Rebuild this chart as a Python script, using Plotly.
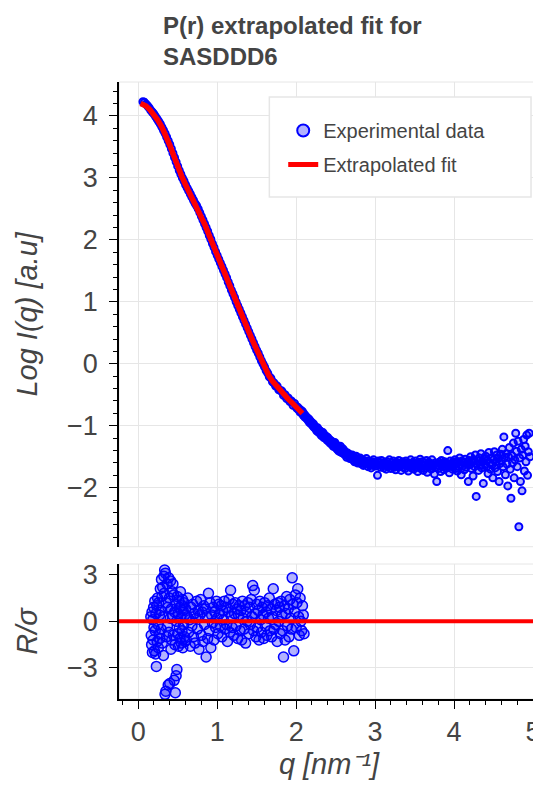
import plotly.graph_objects as go

# ---------------- data ----------------
q_exp = [
    0.06, 0.08, 0.10, 0.12, 0.14, 0.16, 0.18, 0.20, 0.22, 0.24,
    0.26, 0.28, 0.30, 0.32, 0.34, 0.36, 0.38, 0.40, 0.42, 0.44,
    0.46, 0.48, 0.50, 0.52, 0.54, 0.56, 0.58, 0.60, 0.62, 0.64,
    0.66, 0.68, 0.70, 0.72, 0.74, 0.76, 0.78, 0.80, 0.82, 0.84,
    0.86, 0.88, 0.90, 0.92, 0.94, 0.96, 0.98, 1.00, 1.02, 1.04,
    1.06, 1.08, 1.10, 1.12, 1.14, 1.16, 1.18, 1.20, 1.22, 1.24,
    1.26, 1.28, 1.30, 1.32, 1.34, 1.36, 1.38, 1.40, 1.42, 1.44,
    1.46, 1.48, 1.50, 1.52, 1.54, 1.56, 1.58, 1.60, 1.62, 1.64,
    1.66, 1.68, 1.70, 1.72, 1.74, 1.76, 1.78, 1.80, 1.82, 1.84,
    1.86, 1.88, 1.90, 1.92, 1.94, 1.96, 1.98,
    2.00, 2.01, 2.02, 2.03, 2.04, 2.05, 2.06, 2.07, 2.08, 2.09,
    2.10, 2.11, 2.12, 2.13, 2.14, 2.15, 2.16, 2.17, 2.18, 2.19,
    2.20, 2.21, 2.22, 2.23, 2.24, 2.25, 2.26, 2.27, 2.28, 2.29,
    2.30, 2.31, 2.32, 2.33, 2.34, 2.35, 2.36, 2.37, 2.38, 2.39,
    2.40, 2.41, 2.42, 2.43, 2.44, 2.45, 2.46, 2.47, 2.48, 2.49,
    2.50, 2.51, 2.52, 2.53, 2.54, 2.55, 2.56, 2.57, 2.58, 2.59,
    2.60, 2.61, 2.62, 2.63, 2.64, 2.65, 2.66, 2.67, 2.68, 2.69,
    2.70, 2.71, 2.72, 2.73, 2.74, 2.75, 2.76, 2.77, 2.78, 2.79,
    2.80, 2.81, 2.82, 2.83, 2.84, 2.85, 2.86, 2.87, 2.88, 2.89,
    2.90, 2.91, 2.92, 2.93, 2.94, 2.95, 2.96, 2.97, 2.98, 2.99,
    3.00, 3.01, 3.02, 3.03, 3.04, 3.05, 3.06, 3.07, 3.08, 3.09,
    3.10, 3.11, 3.12, 3.13, 3.14, 3.15, 3.16, 3.17, 3.18, 3.19,
    3.20, 3.21, 3.22, 3.23, 3.24, 3.25, 3.26, 3.27, 3.28, 3.29,
    3.30, 3.31, 3.32, 3.33, 3.34, 3.35, 3.36, 3.37, 3.38, 3.39,
    3.40, 3.41, 3.42, 3.43, 3.44, 3.45, 3.46, 3.47, 3.48, 3.49,
    3.50, 3.51, 3.52, 3.53, 3.54, 3.55, 3.56, 3.57, 3.58, 3.59,
    3.60, 3.61, 3.62, 3.63, 3.64, 3.65, 3.66, 3.67, 3.68, 3.69,
    3.70, 3.71, 3.72, 3.73, 3.74, 3.75, 3.76, 3.77, 3.78, 3.79,
    3.80, 3.81, 3.82, 3.83, 3.84, 3.85, 3.86, 3.87, 3.88, 3.89,
    3.90, 3.91, 3.92, 3.93, 3.94, 3.95, 3.96, 3.97, 3.98, 3.99,
    4.00, 4.01, 4.02, 4.03, 4.04, 4.05, 4.06, 4.07, 4.08, 4.09,
    4.10, 4.11, 4.12, 4.13, 4.14, 4.15, 4.16, 4.17, 4.18, 4.19,
    4.20, 4.21, 4.22, 4.23, 4.24, 4.25, 4.26, 4.27, 4.28, 4.29,
    4.30, 4.31, 4.32, 4.33, 4.34, 4.35, 4.36, 4.37, 4.38, 4.39,
    4.40, 4.41, 4.42, 4.43, 4.44, 4.45, 4.46, 4.47, 4.48, 4.49,
    4.50, 4.51, 4.52, 4.53, 4.54, 4.55, 4.56, 4.57, 4.58, 4.59,
    4.60, 4.61, 4.62, 4.63, 4.64, 4.65, 4.66, 4.67, 4.68, 4.69,
    4.70, 4.71, 4.72, 4.73, 4.74, 4.75, 4.76, 4.77, 4.78, 4.79,
    4.80, 4.81, 4.82, 4.83, 4.84, 4.85, 4.86, 4.87, 4.88, 4.89,
    4.90, 4.91, 4.92, 4.93, 4.94, 4.95, 4.96,
]
logI_exp = [
    4.23, 4.22, 4.19, 4.16, 4.13, 4.09, 4.06, 4.03, 3.99, 3.95,
    3.91, 3.87, 3.82, 3.77, 3.72, 3.66, 3.60, 3.54, 3.47, 3.40,
    3.33, 3.26, 3.19, 3.12, 3.06, 3.00, 2.95, 2.89, 2.84, 2.79,
    2.74, 2.69, 2.64, 2.59, 2.55, 2.50, 2.44, 2.38, 2.32, 2.26,
    2.20, 2.14, 2.07, 2.01, 1.94, 1.88, 1.81, 1.75, 1.69, 1.63,
    1.57, 1.51, 1.45, 1.39, 1.32, 1.26, 1.19, 1.13, 1.07, 1.00,
    0.94, 0.88, 0.82, 0.76, 0.70, 0.64, 0.58, 0.52, 0.46, 0.40,
    0.34, 0.28, 0.22, 0.17, 0.11, 0.05, 0.00, -0.05, -0.11, -0.15,
    -0.21, -0.23, -0.29, -0.31, -0.36, -0.36, -0.42, -0.43, -0.44, -0.51,
    -0.50, -0.56, -0.55, -0.61, -0.60, -0.67, -0.64,
    -0.69, -0.72, -0.70, -0.74, -0.73, -0.78, -0.75, -0.79, -0.77, -0.83,
    -0.81, -0.86, -0.84, -0.88, -0.87, -0.91, -0.89, -0.95, -0.92, -0.97,
    -0.95, -1.00, -0.97, -1.03, -1.01, -1.05, -1.08, -1.03, -1.10, -1.07,
    -1.12, -1.09, -1.16, -1.13, -1.11, -1.19, -1.15, -1.20, -1.17, -1.23,
    -1.19, -1.25, -1.22, -1.28, -1.24, -1.30, -1.26, -1.33, -1.29, -1.27,
    -1.35, -1.31, -1.38, -1.34, -1.41, -1.36, -1.33, -1.43, -1.39, -1.37,
    -1.45, -1.40, -1.47, -1.43, -1.51, -1.44, -1.49, -1.46, -1.53, -1.48,
    -1.52, -1.47, -1.55, -1.50, -1.58, -1.53, -1.49, -1.56, -1.60, -1.54,
    -1.57, -1.52, -1.61, -1.55, -1.59, -1.64, -1.56, -1.62, -1.58, -1.53,
    -1.61, -1.66, -1.57, -1.63, -1.60, -1.68, -1.58, -1.64, -1.55, -1.62,
    -1.59, -1.65, -1.62, -1.80, -1.57, -1.63, -1.60, -1.67, -1.56, -1.64,
    -1.61, -1.68, -1.59, -1.64, -1.70, -1.58, -1.66, -1.62, -1.55, -1.65,
    -1.69, -1.60, -1.64, -1.57, -1.67, -1.62, -1.71, -1.59, -1.65, -1.61,
    -1.56, -1.66, -1.63, -1.72, -1.60, -1.58, -1.67, -1.62, -1.69, -1.57,
    -1.64, -1.60, -1.73, -1.61, -1.66, -1.55, -1.68, -1.62, -1.59, -1.70,
    -1.63, -1.57, -1.67, -1.61, -1.74, -1.59, -1.65, -1.54, -1.69, -1.62,
    -1.58, -1.72, -1.64, -1.60, -1.68, -1.56, -1.75, -1.62, -1.59, -1.66,
    -1.61, -1.70, -1.55, -1.65, -1.63, -1.78, -1.60, -1.67, -1.90, -1.64,
    -1.69, -1.59, -1.62, -1.74, -1.56, -1.66, -1.61, -1.71, -1.58, -1.65,
    -1.60, -1.68, -1.40, -1.63, -1.76, -1.57, -1.65, -1.61, -1.70, -1.58,
    -1.64, -1.55, -1.69, -1.60, -1.73, -1.58, -1.66, -1.52, -1.62, -1.79,
    -1.57, -1.65, -1.60, -1.71, -1.54, -1.67, -1.62, -1.58, -1.90, -1.56,
    -1.63, -1.50, -1.69, -1.59, -1.81, -1.55, -1.66, -1.47, -2.14, -1.61,
    -1.57, -1.72, -1.52, -1.64, -1.45, -1.68, -1.58, -1.93, -1.54, -1.62,
    -1.49, -1.66, -1.56, -1.77, -1.43, -1.60, -1.70, -1.52, -1.63, -1.84,
    -1.55, -1.42, -1.68, -1.58, -1.47, -1.74, -1.53, -1.90, -1.61, -1.46,
    -1.57, -1.38, -1.66, -1.18, -1.51, -1.79, -1.45, -1.62, -1.97, -1.50,
    -1.35, -1.70, -2.17, -1.48, -1.60, -1.28, -1.84, -1.55, -1.12, -1.41,
    -1.66, -1.25, -2.63, -1.52, -1.90, -1.38, -2.05, -1.47, -1.22, -1.73,
    -1.33, -1.58, -1.15, -1.80, -1.42, -1.12, -1.50,
]

q_fit = [
    0.03, 0.06, 0.10, 0.15, 0.20, 0.25, 0.30, 0.35, 0.40, 0.45,
    0.50, 0.55, 0.60, 0.65, 0.70, 0.75, 0.80, 0.85, 0.90, 0.95,
    1.00, 1.05, 1.10, 1.15, 1.20, 1.25, 1.30, 1.35, 1.40, 1.45,
    1.50, 1.55, 1.60, 1.65, 1.70, 1.75, 1.80, 1.85, 1.90, 1.95,
    2.00, 2.05, 2.08,
]
logI_fit = [
    4.20, 4.19, 4.16, 4.10, 4.02, 3.93, 3.82, 3.69, 3.53, 3.36,
    3.18, 3.03, 2.89, 2.76, 2.64, 2.52, 2.38, 2.23, 2.07, 1.91,
    1.75, 1.60, 1.45, 1.29, 1.13, 0.97, 0.82, 0.67, 0.52, 0.37,
    0.22, 0.08, -0.05, -0.18, -0.28, -0.36, -0.43, -0.50, -0.57, -0.63,
    -0.69, -0.76, -0.80,
]

q_res = [
    0.160, 0.165, 0.170, 0.175, 0.180, 0.185, 0.190, 0.195, 0.200, 0.205,
    0.210, 0.215, 0.220, 0.225, 0.230, 0.235, 0.240, 0.245, 0.250, 0.255,
    0.260, 0.265, 0.270, 0.275, 0.280, 0.285, 0.290, 0.295, 0.300, 0.305,
    0.310, 0.315, 0.320, 0.325, 0.330, 0.335, 0.340, 0.345, 0.350, 0.355,
    0.360, 0.365, 0.370, 0.375, 0.380, 0.385, 0.390, 0.395, 0.400, 0.405,
    0.410, 0.415, 0.420, 0.425, 0.430, 0.435, 0.440, 0.445, 0.450, 0.455,
    0.460, 0.465, 0.470, 0.475, 0.480, 0.485, 0.490, 0.495, 0.500, 0.505,
    0.510, 0.515, 0.520, 0.525, 0.530, 0.535, 0.540, 0.545, 0.550, 0.555,
    0.560, 0.565, 0.570, 0.575, 0.580, 0.585, 0.590, 0.595,
    0.60, 0.61, 0.62, 0.63, 0.64, 0.65, 0.66, 0.67, 0.68, 0.69,
    0.70, 0.71, 0.72, 0.73, 0.74, 0.75, 0.76, 0.77, 0.78, 0.79,
    0.80, 0.81, 0.82, 0.83, 0.84, 0.85, 0.86, 0.87, 0.88, 0.89,
    0.90, 0.91, 0.92, 0.93, 0.94, 0.95, 0.96, 0.97, 0.98, 0.99,
    1.00, 1.01, 1.02, 1.03, 1.04, 1.05, 1.06, 1.07, 1.08, 1.09,
    1.10, 1.11, 1.12, 1.13, 1.14, 1.15, 1.16, 1.17, 1.18, 1.19,
    1.20, 1.21, 1.22, 1.23, 1.24, 1.25, 1.26, 1.27, 1.28, 1.29,
    1.30, 1.31, 1.32, 1.33, 1.34, 1.35, 1.36, 1.37, 1.38, 1.39,
    1.40, 1.41, 1.42, 1.43, 1.44, 1.45, 1.46, 1.47, 1.48, 1.49,
    1.50, 1.51, 1.52, 1.53, 1.54, 1.55, 1.56, 1.57, 1.58, 1.59,
    1.60, 1.61, 1.62, 1.63, 1.64, 1.65, 1.66, 1.67, 1.68, 1.69,
    1.70, 1.71, 1.72, 1.73, 1.74, 1.75, 1.76, 1.77, 1.78, 1.79,
    1.80, 1.81, 1.82, 1.83, 1.84, 1.85, 1.86, 1.87, 1.88, 1.89,
    1.90, 1.91, 1.92, 1.93, 1.94, 1.95, 1.96, 1.97, 1.98, 1.99,
    2.00, 2.01, 2.02, 2.03, 2.04, 2.05, 2.06, 2.07, 2.08, 2.09, 2.10,
]
res_sigma = [
    0.3, -0.9, -1.5, 0.6, -2.0, 0.1, -1.2, 0.9, -0.4, -1.9,
    1.3, -0.6, -2.1, 0.5, -2.9, 1.0, -1.3, 1.5, -0.2, -1.7,
    1.2, -0.8, 0.4, -1.1, 2.1, 0.7, -0.5, 2.7, 1.6, -1.4,
    2.2, 0.3, -2.2, 2.9, 1.8, 3.3, -4.7, 3.1, -4.5, 1.2,
    -1.0, 2.4, -0.3, 0.9, -4.1, 2.8, -0.7, 1.5, -4.0, 0.2,
    2.6, -1.8, 0.8, -1.2, 1.9, 0.4, 2.4, -0.9, 1.7, -3.8,
    0.6, -1.5, -4.6, 1.1, -3.5, 0.0, -3.1, 1.6, -0.8, 0.5,
    -1.6, 1.3, -0.4, 0.9, -1.1, 1.9, 0.2, -1.4, 1.0, -0.6,
    1.4, -1.7, 0.7, -0.2, 1.2, -1.0, 0.4, -1.3,
    0.8, -1.2, 0.3, 1.5, -0.7, 0.1, -1.6, 0.9, -0.3, 1.1,
    -1.0, 0.5, -1.4, 0.2, 1.3, -0.5, 0.7, -1.8, 0.4, 1.4,
    -0.9, 0.6, -1.3, 1.0, -0.2, 0.8, -2.3, 0.3, -1.1, 1.8,
    -0.6, 1.2, -1.7, 0.4, -0.1, 0.9, -1.2, 0.6, -0.4, 1.3,
    0.2, -0.8, 1.1, 0.5, -0.3, 1.0, -1.0, 0.7, 0.1, 1.3,
    -0.5, 0.9, -0.2, -1.3, 0.6, 1.4, -0.7, 2.0, 0.3, -0.4,
    1.1, -0.9, 0.5, 1.2, -0.3, 0.8, -1.1, 0.4, 1.0, -0.6,
    0.7, -1.2, 1.3, 0.2, -0.5, 1.0, -1.4, 0.6, 0.0, 1.2,
    -0.8, 0.9, -0.2, 1.4, 0.3, 2.3, -0.6, 2.0, 0.5, -1.0,
    1.1, -0.4, 0.7, -1.2, 1.3, 0.1, -0.7, 0.9, 0.4, -1.1,
    1.2, -0.3, 0.6, -0.9, 1.0, 0.2, 1.5, -0.6, 0.8, -1.0,
    0.3, 2.1, -0.5, 1.1, -0.2, 0.7, -1.3, 1.2, 0.0, 0.9,
    -0.8, 1.3, 0.4, -0.6, -2.3, 1.0, -1.2, 0.5, 1.6, -0.3,
    0.8, -1.0, 1.4, 0.2, -0.5, 2.8, 1.1, -1.9, 0.6, 1.7,
    -0.4, 1.2, 2.1, 0.3, -0.9, 1.5, 0.0, -0.6, 1.0, 0.4, -0.8,
]

title_text = "P(r) extrapolated fit for<br>SASDDD6"
y_title = "Log I(q) [a.u]"
res_title = "R/σ"
x_title = "q [nm⁻¹]"

# ---------------- figure ----------------
FONT = "Liberation Sans, Arial, Helvetica, sans-serif"
TXT = "#444444"
GRID = "#e6e6e6"
XR = [-0.243, 5.075]

W, H = 533, 779  # page body has an 8px margin

fig = go.Figure()
fig.add_trace(go.Scatter(
    x=q_exp, y=logI_exp, mode="markers", name="Experimental data", legendgroup="exp",
    marker=dict(size=7, color="rgba(0,0,255,0.3)", line=dict(color="blue", width=2)),
    xaxis="x", yaxis="y"))
fig.add_trace(go.Scatter(
    x=q_fit, y=logI_fit, mode="lines", name="Extrapolated fit", legendgroup="fit",
    line=dict(color="red", width=5.5), xaxis="x", yaxis="y"))
fig.add_trace(go.Scatter(
    x=q_res, y=res_sigma, mode="markers", showlegend=False,
    marker=dict(size=10, color="rgba(0,0,255,0.3)", line=dict(color="blue", width=1.5)),
    xaxis="x2", yaxis="y2"))

shapes = [
    dict(type="rect", xref="x domain", yref="y domain", x0=0, x1=1, y0=0, y1=1,
         line=dict(color=GRID, width=1), layer="below"),
    dict(type="rect", xref="x2 domain", yref="y2 domain", x0=0, x1=1, y0=0, y1=1,
         line=dict(color=GRID, width=1), layer="below"),
    dict(type="line", xref="x2 domain", yref="y2", x0=0, x1=1, y0=0, y1=0,
         line=dict(color="red", width=4), layer="above"),
    # legend box
    dict(type="rect", xref="paper", yref="paper", x0=0.358, x1=0.981, y0=0.8135, y1=0.9757,
         line=dict(color=GRID, width=1.5), fillcolor="white", layer="above"),
]

tickfont = dict(family=FONT, size=27, color=TXT)
titlefont = dict(family=FONT, size=29, color=TXT, style="italic")

fig.update_layout(
    width=W, height=H,
    margin=dict(l=111, r=0, t=74, b=88),
    paper_bgcolor="white", plot_bgcolor="white",
    font=dict(family=FONT, color=TXT),
    title=dict(text=title_text, x=155 / W, xanchor="left", xref="container",
               y=1 - 26 / H, yanchor="top", yref="container",
               font=dict(family=FONT, size=24, color=TXT, weight="bold")),
    showlegend=True,
    legend=dict(x=0.391, y=0.953, xanchor="left", yanchor="top",
                bgcolor="rgba(0,0,0,0)", borderwidth=0,
                font=dict(family=FONT, size=20, color=TXT),
                traceorder="grouped", tracegroupgap=5, itemsizing="constant"),
    shapes=shapes,
    xaxis=dict(domain=[0, 1], anchor="y", range=XR, matches="x2",
               showticklabels=False, ticks="", showline=False, zeroline=False,
               showgrid=True, gridcolor=GRID, gridwidth=1, dtick=1, tick0=0),
    yaxis=dict(domain=[0.2468, 1], anchor="x", range=[-2.952, 4.548],
               dtick=1, tick0=0, ticks="outside", ticklen=8, tickwidth=1, tickcolor="black",
               showline=True, linecolor="black", linewidth=1.5,
               zeroline=False, showgrid=True, gridcolor=GRID, gridwidth=1,
               tickfont=tickfont, ticklabelstandoff=6,
               minor=dict(dtick=0.2, tick0=0, ticks="outside", ticklen=4, tickcolor="black",
                          tickwidth=1, showgrid=False),
               title=dict(text=y_title, font=titlefont, standoff=21)),
    xaxis2=dict(domain=[0, 1], anchor="y2", range=XR,
                dtick=1, tick0=0, ticks="outside", ticklen=8, tickwidth=1, tickcolor="black",
                showline=True, linecolor="black", linewidth=1.5,
                zeroline=False, showgrid=True, gridcolor=GRID, gridwidth=1,
                tickfont=tickfont, ticklabelstandoff=0, ticklabeloverflow="allow",
                minor=dict(dtick=0.2, tick0=0, ticks="outside", ticklen=4, tickcolor="black",
                           tickwidth=1, showgrid=False),
                title=dict(text=x_title, font=titlefont, standoff=8)),
    yaxis2=dict(domain=[0, 0.2188], anchor="x2", range=[-5.0, 3.69],
                tickvals=[-3, 0, 3], ticks="outside", ticklen=8, tickwidth=1, tickcolor="black",
                showline=True, linecolor="black", linewidth=1.5,
                zeroline=False, showgrid=True, gridcolor=GRID, gridwidth=1,
                tickfont=tickfont, ticklabelstandoff=6,
                title=dict(text=res_title, font=titlefont, standoff=21)),
)

fig.write_html("out.html")
